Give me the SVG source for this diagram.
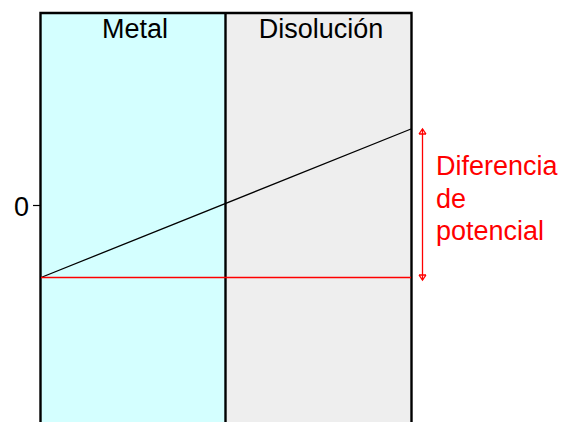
<svg xmlns="http://www.w3.org/2000/svg" width="573" height="422" viewBox="0 0 573 422">
<style>
.t{font-family:"Liberation Sans",Arial,sans-serif;font-size:27px}
.b{stroke:#000;stroke-width:2.4;fill:none}
.r{stroke:#ff0000;stroke-width:1.3;fill:none}
</style>
<rect width="573" height="422" fill="#fff"/>
<g id="metal">
<rect x="40" y="13" width="185.5" height="420" fill="#d4ffff"/>
<text class="t" x="135" y="38" text-anchor="middle">Metal</text>
</g>
<g id="disolucion">
<rect x="225.5" y="13" width="186" height="420" fill="#eeeeee"/>
<text class="t" x="321" y="38" text-anchor="middle">Disolución</text>
</g>
<g id="frame">
<path class="b" d="M40.5,440 V13 H411.5 V440 M225.5,13 V440"/>
</g>
<g id="axis">
<line x1="33" y1="205.5" x2="40" y2="205.5" stroke="#000" stroke-width="1.2"/>
<text class="t" x="29" y="216" text-anchor="end" font-size="25">0</text>
</g>
<g id="connectors">
<line x1="41" y1="277.5" x2="411" y2="129" stroke="#000" stroke-width="1.3"/>
<line x1="41" y1="277.5" x2="411" y2="277.5" class="r"/>
<line x1="422.5" y1="129" x2="422.5" y2="280" class="r"/>
<path class="r" d="M419,134 L422.5,129 L426,134 M419,134 H426 M419,275 L422.5,280 L426,275 M419,275 H426"/>
</g>
<g id="label">
<text class="t" x="436" y="175" fill="#ff0000">Diferencia</text>
<text class="t" x="436" y="208" fill="#ff0000">de</text>
<text class="t" x="436" y="240" fill="#ff0000">potencial</text>
</g>
</svg>
